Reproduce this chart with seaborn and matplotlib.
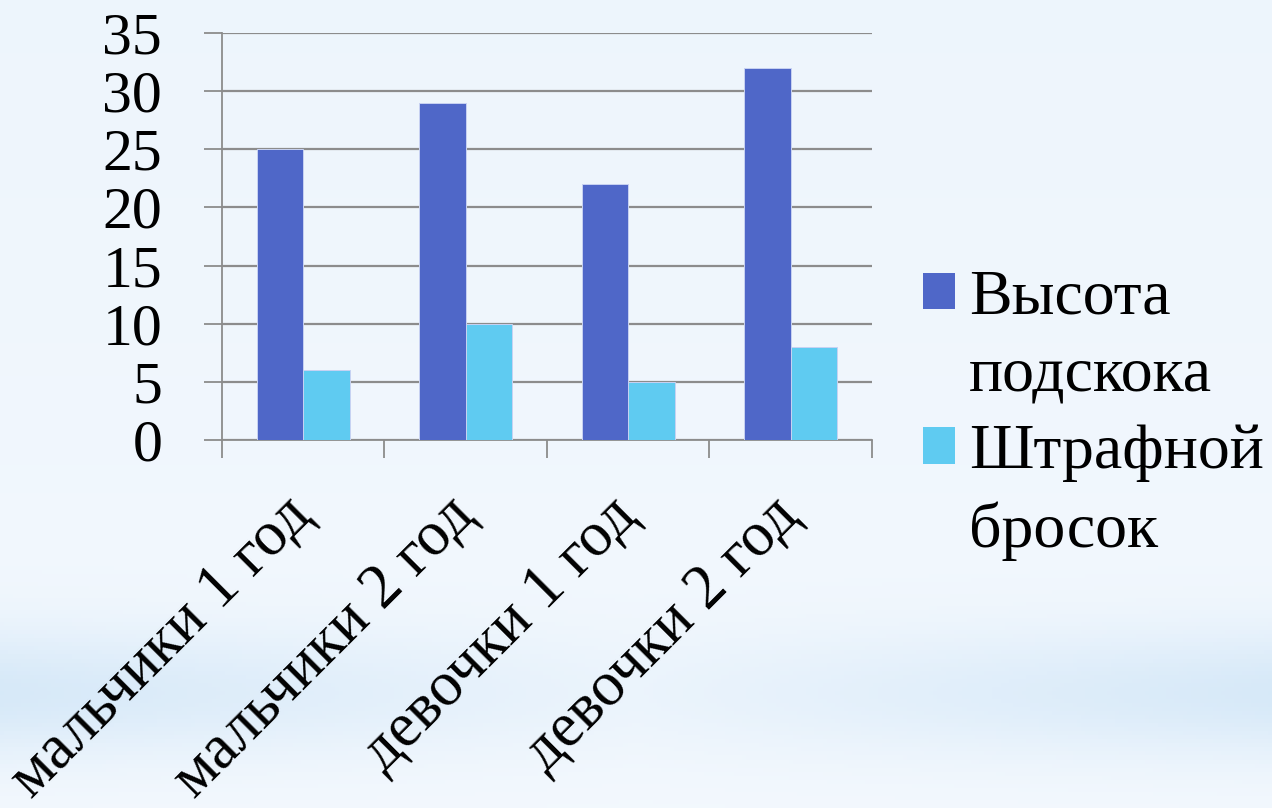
import numpy as np
import pandas as pd
import seaborn as sns
import matplotlib.pyplot as plt
from matplotlib.patches import Patch

groups = ['мальчики 1 год', 'мальчики 2 год', 'девочки 1 год', 'девочки 2 год']
series = ['Высота подскока', 'Штрафной бросок']
jump = [25, 29, 22, 32]
throw = [6, 10, 5, 8]
yticks = [0, 5, 10, 15, 20, 25, 30, 35]
colors = ['#4f67c8', '#5fcbf1']

df = pd.DataFrame({
    'group': groups * 2,
    'series': [series[0]] * 4 + [series[1]] * 4,
    'value': jump + throw,
})

sns.set_theme(style='white')
plt.rcParams['font.family'] = ['Liberation Serif', 'DejaVu Serif']
plt.rcParams['text.color'] = 'black'
plt.rcParams['xtick.color'] = 'black'
plt.rcParams['ytick.color'] = 'black'

fig = plt.figure(figsize=(12.72, 8.08), dpi=100)

# soft light blue slide background
bg = fig.add_axes([0, 0, 1, 1], zorder=-10)
yy, xx = np.mgrid[0:1:200j, 0:1:300j]
edge = 0.25 + 0.75 * np.abs(xx - 0.5) * 2
w = 0.10 + 0.10 * (1 - yy) + 0.5 * np.exp(-((yy - 0.86) / 0.08) ** 2) * edge
w = np.clip(w, 0, 1)
base = np.array([0.975, 0.985, 0.998])
blue = np.array([0.76, 0.87, 0.96])
img = base[None, None, :] * (1 - w[..., None]) + blue[None, None, :] * w[..., None]
bg.imshow(img, aspect='auto', extent=[0, 1, 0, 1], origin='upper')
bg.axis('off')

ax = fig.add_axes([0.1745, 0.4554, 0.511, 0.5038])
ax.set_facecolor('none')

sns.barplot(data=df, x='group', y='value', hue='series', palette=colors,
            saturation=1, width=0.57, gap=0, legend=False,
            edgecolor='#c8d2f2', linewidth=0.7, zorder=3, ax=ax)

ax.set_xlim(-0.5, 3.5)
ax.set_ylim(0, 35)
ax.set_yticks(yticks)
ax.set_yticklabels([str(v) for v in yticks], fontsize=43)
ax.set_xticks(range(len(groups)))
ax.set_xticklabels(groups, fontsize=45, rotation=45, ha='right',
                   rotation_mode='anchor', va='center')
ax.set_xticks(np.arange(-0.5, 4, 1), minor=True)
ax.set_xlabel('')
ax.set_ylabel('')

grey = '#8c8c8c'
ax.yaxis.grid(True, color=grey, linewidth=1.6, zorder=0)
ax.set_axisbelow(True)
ax.tick_params(axis='y', length=13, width=1.3, color=grey, pad=30, left=True)
ax.tick_params(axis='x', which='major', length=0, pad=48)
ax.tick_params(axis='x', which='minor', length=13, width=1.3, color=grey, bottom=True)
for s in ['top', 'right']:
    ax.spines[s].set_visible(False)
for s in ['left', 'bottom']:
    ax.spines[s].set_color(grey)
    ax.spines[s].set_linewidth(1.3)

# legend: one handle per series, label split onto two lines
handles, labels = [], []
for name, c in zip(series, colors):
    first, second = name.split(' ', 1)
    handles += [Patch(facecolor=c, edgecolor='none'), Patch(facecolor='none', edgecolor='none')]
    labels += [first, second]
fig.legend(handles, labels, loc='center left', bbox_to_anchor=(0.7256, 0.486),
           frameon=False, fontsize=46, handlelength=0.5, handleheight=0.5,
           handletextpad=0.22, labelspacing=0.3, borderpad=0, borderaxespad=0)

fig.savefig('out.png', dpi=100)
